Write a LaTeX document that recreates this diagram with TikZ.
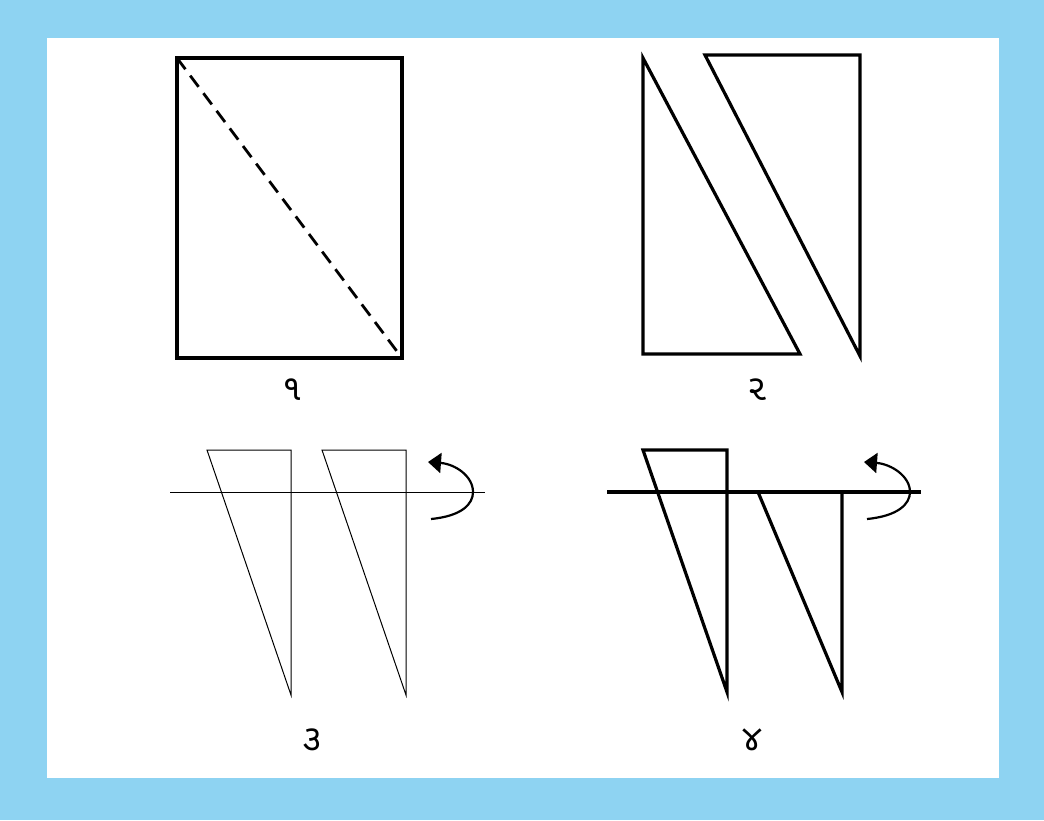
\documentclass[tikz,border=0pt]{standalone}
\usepackage{fontspec}
\newfontfamily\gujfont[Script=Gujarati]{Noto Sans Gujarati UI}
\usetikzlibrary{arrows.meta}
\definecolor{framesky}{HTML}{8ED3F2}
\tikzset{
  boldline/.style={line width=3.2pt, line join=miter, line cap=butt},
  thinline/.style={line width=1pt},
  cutline/.style={line width=2.8pt, dash pattern=on 14pt off 8pt},
  turnarrow/.style={line width=2.2pt, -{Triangle[length=13pt, width=20pt]}},
  steplabel/.style={font=\gujfont\fontsize{36}{38}\selectfont, inner sep=0pt}
}
\begin{document}
\begin{tikzpicture}[x=1pt, y=-1pt]
  % frame
  \fill[framesky] (0,0) rectangle (1044,820);
  \fill[white] (47,38) rectangle (999,778);

  % step 1: sheet with fold line
  \coordinate (sheetTL) at (177,58);
  \coordinate (sheetBR) at (402,358);
  \draw[boldline] (sheetTL) rectangle (sheetBR);
  \draw[cutline] (sheetTL) -- (sheetBR);
  \node[steplabel] (stepone) at (292,390) {૧};

  % step 2: two halves
  \draw[boldline] (643,58) -- (643,354) -- (800,354) -- cycle;
  \draw[boldline] (705,55) -- (860,55) -- (860,356) -- cycle;
  \node[steplabel] (steptwo) at (757,390) {૨};

  % step 3: thin pieces on the axis
  \coordinate (axisL) at (170,492);
  \coordinate (axisR) at (485,492);
  \draw[thinline] (axisL) -- (axisR);
  \draw[thinline] (207,450) -- (291,450) -- (291,695) -- cycle;
  \draw[thinline] (322,450) -- (406,450) -- (406,695) -- cycle;
  \coordinate (turnAfrom) at (431,519);
  \coordinate (turnAto) at (428,462);
  \draw[turnarrow] (turnAfrom) .. controls (462,516) and (473,504) .. (473,492)
    .. controls (473,476) and (455,464) .. (turnAto);
  \node[steplabel] (stepthree) at (312,740) {૩};

  % step 4: pieces turned over
  \coordinate (axisL2) at (607,492);
  \coordinate (axisR2) at (921,492);
  \draw[boldline] (axisL2) -- (axisR2);
  \draw[boldline] (643,450) -- (727,450) -- (727,692) -- cycle;
  \draw[boldline] (758,492) -- (842,692) -- (842,492);
  \coordinate (turnBfrom) at (867,519);
  \coordinate (turnBto) at (864,462);
  \draw[turnarrow] (turnBfrom) .. controls (898,516) and (910,504) .. (910,492)
    .. controls (910,476) and (891,464) .. (turnBto);
  \node[steplabel] (stepfour) at (752,740) {૪};
\end{tikzpicture}
\end{document}
